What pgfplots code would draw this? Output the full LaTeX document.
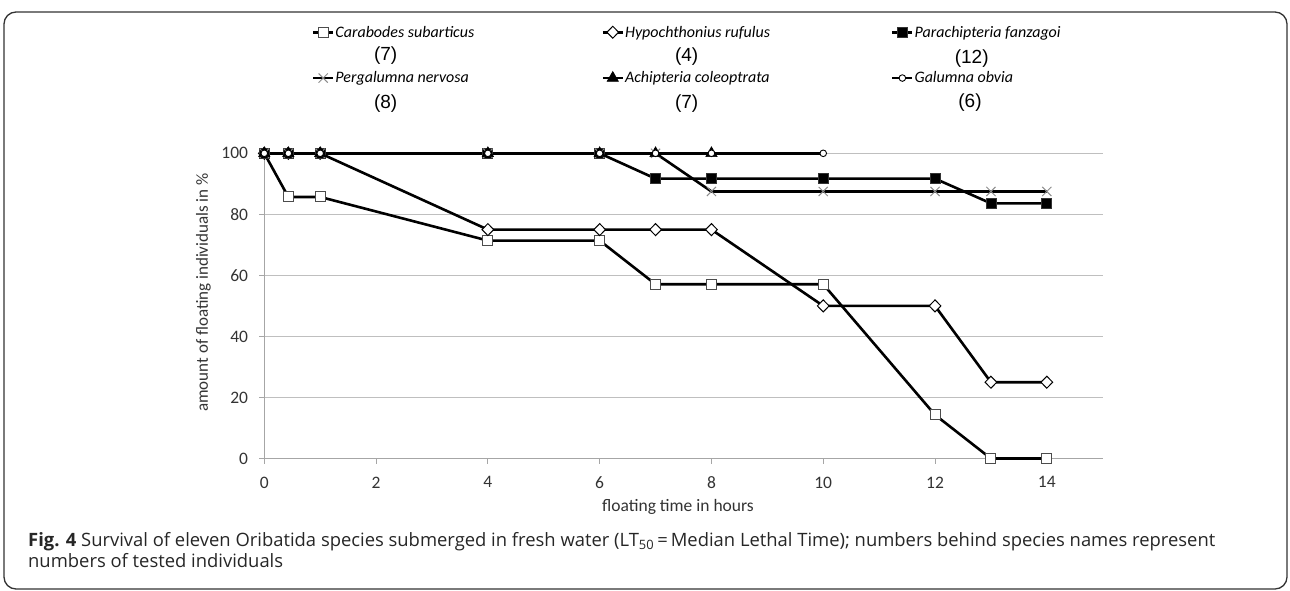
\documentclass[border=0pt]{standalone}
\usepackage{fontspec}
\usepackage{pgfplots}
\pgfplotsset{compat=1.18}
\setmainfont{Carlito}
\newfontfamily\legfont{Carlito}
\newfontfamily\numfont{Liberation Sans}
\newfontfamily\capfont{Open Sans}
\definecolor{gridgray}{HTML}{BFBFBF}
\definecolor{axgray}{HTML}{A6A6A6}
\definecolor{txt}{HTML}{333333}
\begin{document}
\begin{tikzpicture}[x=1pt,y=1pt]
\useasboundingbox (0,0) rectangle (1290,-590);
\draw[black!80, line width=1.3pt, rounded corners=12pt] (4,-12) rectangle (1287,-589);
\begin{axis}[
  at={(264.3pt,-458.5pt)}, anchor=south west,
  scale only axis, width=838.4pt, height=305.2pt,
  xmin=0, xmax=15, ymin=0, ymax=100,
  axis x line*=bottom, axis y line*=left,
  axis line style={-, axgray, line width=1pt},
  xtick={0,2,...,14}, ytick={0,20,...,100},
  tick align=outside, major tick length=5pt,
  tick style={axgray, line width=1pt},
  ymajorgrids, grid style={gridgray, line width=1pt},
  /pgf/number format/assume math mode=true,
  ticklabel style={font=\fontsize{17.5}{20}\selectfont, text=txt, inner sep=0pt},
  xticklabel style={anchor=north, yshift=-13pt},
  yticklabel style={anchor=east, xshift=-11pt},
  xlabel={floating time in hours},
  xlabel style={at={(axis description cs:0.4934,0)}, anchor=north, yshift=-40.5pt, inner sep=0pt, font=\fontsize{17.5}{20}\selectfont, text=txt},
  ylabel={amount of floating individuals in \%},
  ylabel style={at={(axis description cs:-0.0725,0.544)}, anchor=center, inner sep=0pt, font=\fontsize{17}{20}\selectfont, text=txt},
  clip=false,
  legend columns=3,
  legend cell align=left,
  legend style={at={(axis description cs:0.0565,1.418)}, anchor=north west, draw=none, fill=none, inner sep=0pt, column sep=0pt, row sep=33pt, font=\legfont\itshape\fontsize{16}{19}\selectfont, nodes={inner sep=0pt}},
  legend image code/.code={\draw[mark repeat=2,mark phase=2,#1] plot coordinates {(0pt,0pt) (10pt,0pt) (20pt,0pt)};},
]
\addplot[black, line width=2.6pt, mark=square*, mark size=5pt, mark options={fill=white, draw=black!70, line width=1pt, solid}] coordinates {
(0,100) (0.43,85.7) (1,85.7) (4,71.4) (6,71.4) (7,57.1) (8,57.1) (10,57.1) (12,14.3) (13,0) (14,0)};
\addlegendentry{\hspace{1pt}\makebox[266pt][l]{Carabodes subarticus}}
\addplot[black, line width=2.6pt, mark=diamond*, mark size=6pt, mark options={fill=white, draw=black, line width=1pt, solid, xscale=1.3}] coordinates {
(0,100) (0.43,100) (1,100) (4,75) (6,75) (7,75) (8,75) (10,50) (12,50) (13,25) (14,25)};
\addlegendentry{\hspace{1pt}\makebox[266pt][l]{Hypochthonius rufulus}}
\addplot[black, line width=2.6pt, mark=square*, mark size=5pt, mark options={fill=black, draw=black!80, line width=0.8pt, solid}] coordinates {
(0,100) (0.43,100) (1,100) (4,100) (6,100) (7,91.7) (8,91.7) (10,91.7) (12,91.7) (13,83.6) (14,83.6)};
\addlegendentry{\hspace{1pt}Parachipteria fanzagoi}
\addplot[black, line width=2.6pt, mark=x, mark size=6.5pt, mark options={draw=black!45, line width=1pt, solid}] coordinates {
(0,100) (0.43,100) (1,100) (4,100) (6,100) (7,100) (8,87.5) (10,87.5) (12,87.5) (13,87.5) (14,87.5)};
\addlegendentry{\hspace{1pt}\makebox[266pt][l]{Pergalumna nervosa}}
\addplot[black, line width=2.6pt, mark=triangle*, mark size=6.5pt, mark options={fill=black, draw=black, line width=0.6pt, solid}] coordinates {
(0,100) (0.43,100) (1,100) (4,100) (6,100) (7,100) (8,100)};
\addlegendentry{\hspace{1pt}\makebox[266pt][l]{Achipteria coleoptrata}}
\addplot[black, line width=2.6pt, mark=*, mark size=3.3pt, mark options={fill=white, draw=black, line width=0.9pt, solid}] coordinates {
(0,100) (0.43,100) (1,100) (4,100) (6,100) (7,100) (8,100) (10,100)};
\addlegendentry{\hspace{1pt}Galumna obvia}
\end{axis}
\begin{scope}[every node/.style={font=\numfont\fontsize{19}{21}\selectfont, inner sep=0pt}]
\node at (385.7,-55.5) {(7)};
\node at (686.7,-56.5) {(4)};
\node at (971.7,-59) {(12)};
\node at (385.7,-103.5) {(8)};
\node at (686.7,-103.5) {(7)};
\node at (970,-103) {(6)};
\end{scope}
\node[anchor=base west, inner sep=0pt, font=\capfont\fontsize{18.4}{21}\selectfont, text=black!85] at (28,-546) {\textbf{Fig. 4} Survival of eleven Oribatida species submerged in fresh water (LT\textsubscript{50}\,=\,Median Lethal Time); numbers behind species names represent};
\node[anchor=base west, inner sep=0pt, font=\capfont\fontsize{18.4}{21}\selectfont, text=black!85] at (28,-567) {numbers of tested individuals};
\end{tikzpicture}
\end{document}
